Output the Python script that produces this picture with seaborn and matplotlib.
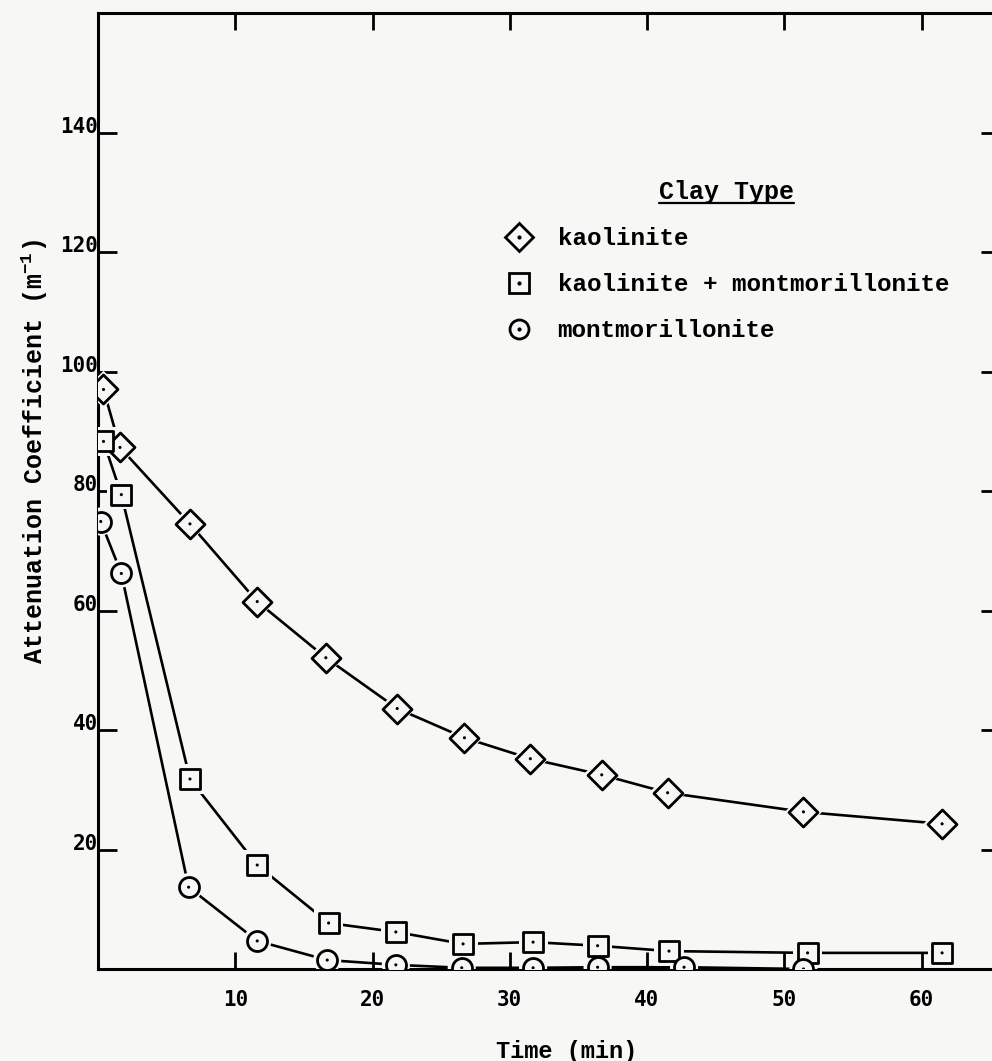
import numpy as np
import pandas as pd
import seaborn as sns
import matplotlib.pyplot as plt
from matplotlib.lines import Line2D
from matplotlib.legend_handler import HandlerTuple

# values (time in min, attenuation in 1/m)
time_kao = [0.4, 1.6, 6.7, 11.6, 16.6, 21.8, 26.7, 31.5, 36.7, 41.5, 51.4, 61.5]
coef_kao = [97.0, 87.3, 74.5, 61.5, 52.1, 43.6, 38.7, 35.2, 32.5, 29.5, 26.3, 24.3]

time_mix = [0.4, 1.7, 6.7, 11.6, 16.8, 21.7, 26.6, 31.7, 36.4, 41.6, 51.7, 61.5]
coef_mix = [88.3, 79.4, 31.8, 17.4, 7.7, 6.2, 4.2, 4.5, 3.9, 3.0, 2.7, 2.7]

time_mont = [0.2, 1.7, 6.6, 11.6, 16.7, 21.7, 26.5, 31.7, 36.4, 42.7, 51.4]
coef_mont = [74.9, 66.2, 13.7, 4.7, 1.5, 0.7, 0.2, 0.2, 0.3, 0.3, 0.0]

clay_types = ["kaolinite", "kaolinite + montmorillonite", "montmorillonite"]
x_ticks = [10, 20, 30, 40, 50, 60]
y_ticks = [20, 40, 60, 80, 100, 120, 140]

series = [
    (clay_types[0], time_kao, coef_kao, "D", 218, 360),
    (clay_types[1], time_mix, coef_mix, "s", 225, 440),
    (clay_types[2], time_mont, coef_mont, "o", 207, 410),
]

sns.set_theme(style="ticks")
plt.rcParams["font.family"] = ["Liberation Mono", "DejaVu Sans Mono"]
plt.rcParams["font.weight"] = "bold"
plt.rcParams["text.color"] = "black"
plt.rcParams["axes.labelcolor"] = "black"
plt.rcParams["mathtext.fontset"] = "custom"
plt.rcParams["mathtext.rm"] = "Liberation Mono:bold"
plt.rcParams["mathtext.default"] = "rm"

paper = "#f7f7f6"
fig = plt.figure(figsize=(9.92, 10.61), dpi=100, facecolor=paper)
ax = fig.add_axes([0.0988, 0.0867, 0.909, 0.901])
ax.set_facecolor(paper)

for name, t, c, m, size, halo in series:
    df = pd.DataFrame({"time": t, "coef": c})
    sns.lineplot(data=df, x="time", y="coef", color="black", linewidth=1.9,
                 sort=False, estimator=None, ax=ax, zorder=2)
    sns.scatterplot(data=df, x="time", y="coef", marker=m, s=halo, color=paper,
                    edgecolor="none", linewidth=0, ax=ax, zorder=3)
    sns.scatterplot(data=df, x="time", y="coef", marker=m, s=size, facecolor=paper,
                    edgecolor="black", linewidth=2.0, ax=ax, zorder=4)
    sns.scatterplot(data=df, x="time", y="coef", marker="o", s=5, color="black",
                    edgecolor="none", ax=ax, zorder=5)

ax.set_xlim(0, 65.7)
ax.set_ylim(0, 160)

ax.set_xticks(x_ticks, labels=[str(v) for v in x_ticks],
              fontfamily="DejaVu Sans Mono", fontsize=15, fontweight="bold",
              color="black")
ax.set_yticks(y_ticks, labels=[str(v) for v in y_ticks],
              fontfamily="DejaVu Sans Mono", fontsize=15, fontweight="bold",
              va="baseline", color="black")
ax.tick_params(direction="in", top=True, right=True, width=2, colors="black")
ax.tick_params(axis="x", length=12, pad=15)
ax.tick_params(axis="y", length=14, pad=0)

for side in ["left", "bottom", "top", "right"]:
    ax.spines[side].set_linewidth(2.2)
    ax.spines[side].set_color("black")

ax.set_xlabel("Time (min)", fontsize=17, fontweight="bold")
ax.set_ylabel(r"Attenuation Coefficient (m$^{-1}$)", fontsize=18, fontweight="bold")
ax.xaxis.set_label_coords(0.52, -0.074)
ax.yaxis.set_label_coords(-0.053, 0.541)

# legend: open markers with a centre dot, no lines
handles = []
for name, t, c, m, size, halo in series:
    outer = Line2D([], [], marker=m, linestyle="none", markersize=np.sqrt(size) * 0.95,
                   markerfacecolor=paper, markeredgecolor="black", markeredgewidth=2.0)
    dot = Line2D([], [], marker="o", linestyle="none", markersize=2,
                 markerfacecolor="black", markeredgecolor="black")
    handles.append((outer, dot))

leg = ax.legend(handles, clay_types, title="Clay Type", frameon=False,
                loc="upper left", bbox_to_anchor=(492 / 992, 1 - 168 / 1061),
                bbox_transform=fig.transFigure, borderpad=0,
                handlelength=1.2, handletextpad=1.0, labelspacing=0.95,
                prop={"size": 17.5, "weight": "bold"},
                title_fontproperties={"size": 18, "weight": "bold"},
                handler_map={tuple: HandlerTuple(ndivide=1, pad=0)})
for txt in leg.get_texts():
    txt.set_color("black")
leg.get_title().set_color("black")

# underline the legend title
fig.canvas.draw()
bb = leg.get_title().get_window_extent(fig.canvas.get_renderer())
inv = fig.transFigure.inverted()
(x0, y0), (x1, _) = inv.transform([(bb.x0, bb.y0 + 1), (bb.x1, bb.y0 + 1)])
fig.add_artist(Line2D([x0, x1], [y0, y0], color="black", linewidth=1.6,
                      transform=fig.transFigure))

fig.savefig("out.png", dpi=100, facecolor=paper)
